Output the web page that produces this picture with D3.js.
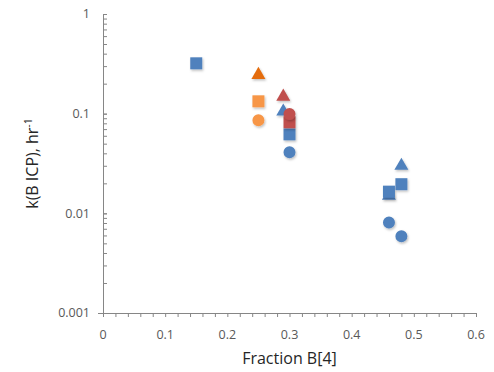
<!DOCTYPE html>
<html>
<head>
<meta charset="utf-8">
<script src="https://cdn.jsdelivr.net/npm/d3@7"></script>
<style>
  body { margin: 0; background: #fff; }
  text { font-family: "Open Sans", "Noto Sans", sans-serif; }
</style>
</head>
<body>
<div id="chart"></div>
<script>
// x = Fraction B[4], y = k(B ICP) in hr^-1
const blueTriangles = [[0.29, 0.105], [0.46, 0.015], [0.48, 0.030]];
const blueSquares = [[0.15, 0.32], [0.30, 0.062], [0.46, 0.0165], [0.48, 0.0196]];
const blueCircles = [[0.30, 0.041], [0.46, 0.0081], [0.48, 0.0059]];
const orangeTriangles = [[0.25, 0.245]];
const orangeSquares = [[0.25, 0.133]];
const orangeCircles = [[0.25, 0.086]];
const redTriangles = [[0.29, 0.148]];
const redSquares = [[0.30, 0.082]];
const redCircles = [[0.30, 0.099]];

const xTicks = [0, 0.1, 0.2, 0.3, 0.4, 0.5, 0.6];
const yTicks = [0.001, 0.01, 0.1, 1];

const width = 494, height = 372;
const margin = { top: 14, right: 18, bottom: 59, left: 103 };
const w = width - margin.left - margin.right;
const h = height - margin.top - margin.bottom;

const svg = d3.select("#chart").append("svg")
  .attr("width", width).attr("height", height);

const defs = svg.append("defs");
const f = defs.append("filter").attr("id", "shadow")
  .attr("x", "-30%").attr("y", "-30%").attr("width", "160%").attr("height", "160%");
f.append("feDropShadow").attr("dx", 1).attr("dy", 1.5).attr("stdDeviation", 1)
  .attr("flood-color", "#000").attr("flood-opacity", 0.25);

const g = svg.append("g").attr("transform", `translate(${margin.left},${margin.top})`);

const x = d3.scaleLinear().domain([0, 0.6]).range([0, w]);
const y = d3.scaleLog().domain([0.001, 1]).range([h, 0]);

const axisColor = "#868686";
const labelColor = "#595959";

// x axis: minor ticks every 0.02, ticks point down
const xMinor = d3.range(0, 0.6001, 0.02);
const xAxis = g.append("g").attr("transform", `translate(0,${h})`)
  .call(d3.axisBottom(x).tickValues(xMinor).tickSize(4).tickSizeOuter(0).tickFormat(""));
xAxis.select(".domain").attr("d", `M-5,0.5H${w}`);
xAxis.selectAll("line, path").attr("stroke", axisColor);
g.append("g").selectAll("text").data(xTicks).join("text")
  .attr("x", d => x(d)).attr("y", h + 26)
  .attr("text-anchor", "middle")
  .attr("font-size", 12.5).attr("fill", labelColor)
  .text(d => d3.format("")(d));

// y axis: log minor ticks inside
const yMinor = [];
[0.001, 0.01, 0.1].forEach(b => { for (let k = 1; k <= 10; k++) yMinor.push(b * k); });
const yAxis = g.append("g")
  .call(d3.axisRight(y).tickValues(yMinor).tickSize(4).tickSizeOuter(0).tickFormat(""));
yAxis.selectAll("line, path").attr("stroke", axisColor);
g.append("g").selectAll("text").data(yTicks).join("text")
  .attr("x", -13).attr("y", d => y(d)).attr("dy", "0.35em")
  .attr("text-anchor", "end")
  .attr("font-size", 12.5).attr("fill", labelColor)
  .text(d => String(d));

// axis titles
svg.append("text")
  .attr("x", margin.left + x(0.3)).attr("y", 364)
  .attr("text-anchor", "middle").attr("font-size", 16).attr("fill", "#262626")
  .text("Fraction B[4]");
const yt = svg.append("text")
  .attr("transform", `translate(38,${margin.top + h / 2}) rotate(-90)`)
  .attr("text-anchor", "middle").attr("font-size", 16).attr("fill", "#262626");
yt.append("tspan").text("k(B ICP), hr");
yt.append("tspan").attr("dy", -6).attr("font-size", 10.5).text("-1");

// markers
const series = [
  { data: blueTriangles, shape: d3.symbolTriangle, color: "#4F81BD" },
  { data: blueSquares, shape: d3.symbolSquare, color: "#4F81BD" },
  { data: blueCircles, shape: d3.symbolCircle, color: "#4F81BD" },
  { data: orangeTriangles, shape: d3.symbolTriangle, color: "#E46C0A" },
  { data: orangeSquares, shape: d3.symbolSquare, color: "#F79646" },
  { data: orangeCircles, shape: d3.symbolCircle, color: "#F79646" },
  { data: redTriangles, shape: d3.symbolTriangle, color: "#C0504D" },
  { data: redSquares, shape: d3.symbolSquare, color: "#C0504D" },
  { data: redCircles, shape: d3.symbolCircle, color: "#C0504D" }
];
const sizes = new Map([[d3.symbolTriangle, 85], [d3.symbolSquare, 144], [d3.symbolCircle, 113]]);

series.forEach(s => {
  g.append("g").attr("filter", "url(#shadow)")
    .selectAll("path").data(s.data).join("path")
    .attr("transform", d => `translate(${x(d[0])},${y(d[1])})`)
    .attr("d", d3.symbol().type(s.shape).size(sizes.get(s.shape)))
    .attr("fill", s.color);
});
</script>
</body>
</html>
